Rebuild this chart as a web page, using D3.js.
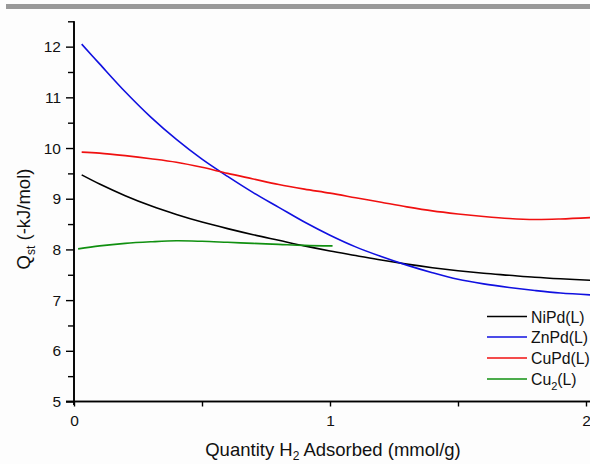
<!DOCTYPE html>
<html>
<head>
<meta charset="utf-8">
<script src="https://cdn.jsdelivr.net/npm/d3@7"></script>
<style>
  body { margin: 0; background: #fdfdfd; }
  svg { display: block; font-family: "Liberation Sans", Arial, sans-serif; }
</style>
</head>
<body>
<svg id="chart" width="590" height="464"></svg>
<script>
// values
let xGrid = [0.03, 0.1, 0.2, 0.3, 0.4, 0.5, 0.6, 0.7, 0.8, 0.9, 1.0, 1.1, 1.2, 1.3, 1.4, 1.5, 1.6, 1.7, 1.8, 1.9, 2.03]
let niPd = [9.47, 9.29, 9.06, 8.86, 8.69, 8.54, 8.41, 8.29, 8.18, 8.07, 7.97, 7.88, 7.79, 7.71, 7.64, 7.58, 7.53, 7.49, 7.45, 7.42, 7.39]
let znPd = [12.05, 11.66, 11.11, 10.61, 10.17, 9.78, 9.44, 9.12, 8.83, 8.54, 8.28, 8.05, 7.86, 7.69, 7.54, 7.41, 7.32, 7.25, 7.19, 7.14, 7.10]
let cuPd = [9.92, 9.90, 9.85, 9.79, 9.72, 9.62, 9.50, 9.39, 9.28, 9.19, 9.11, 9.02, 8.93, 8.84, 8.76, 8.70, 8.65, 8.61, 8.59, 8.60, 8.63]
let xCu2 = [0.016, 0.1, 0.2, 0.3, 0.4, 0.5, 0.6, 0.7, 0.8, 0.9, 1.01]
let cu2 = [8.01, 8.07, 8.12, 8.15, 8.17, 8.16, 8.14, 8.12, 8.10, 8.08, 8.07]

let seriesNames = ['NiPd(L)', 'ZnPd(L)', 'CuPd(L)', 'Cu2(L)']
let seriesColors = ['#000000', '#1010e0', '#f01010', '#109010']
let xTicks = [0, 1, 2]
let yTicks = [5, 6, 7, 8, 9, 10, 11, 12]

let series = [
    { x: xGrid, y: niPd },
    { x: xGrid, y: znPd },
    { x: xGrid, y: cuPd },
    { x: xCu2, y: cu2 },
]

let svg = d3.select('#chart')

// grey strip at top
svg.append('rect').attr('x', 6).attr('y', 4).attr('width', 584).attr('height', 5).attr('fill', '#999')

let x = d3.scaleLinear().domain([0, 2.03]).range([74, 74 + 2.03 * 256])
let y = d3.scaleLinear().domain([5, 12.5]).range([401.5, 21.3])

let clip = svg.append('clipPath').attr('id', 'clip')
clip.append('rect').attr('x', 74).attr('y', 21).attr('width', 520).attr('height', 381)

let line = d3.line()
    .x(d => x(d[0]))
    .y(d => y(d[1]))
    .curve(d3.curveCatmullRom)

series.forEach((s, i) => {
    svg.append('path')
        .datum(s.x.map((v, j) => [v, s.y[j]]))
        .attr('fill', 'none')
        .attr('stroke', seriesColors[i])
        .attr('stroke-width', 1.6)
        .attr('clip-path', 'url(#clip)')
        .attr('d', line)
})

// y axis
let yAxis = svg.append('g').attr('transform', 'translate(74,0)')
yAxis.call(d3.axisLeft(y).tickValues(yTicks).tickFormat(d3.format('d')).tickSize(8).tickPadding(5))
yAxis.append('g').call(d3.axisLeft(y).tickValues(d3.range(5.5, 12.6, 1)).tickSize(6).tickFormat(''))
yAxis.selectAll('.domain').attr('stroke-width', 1.6).attr('d', 'M0,' + y(12.5) + 'V405')
yAxis.selectAll('.tick line').attr('stroke-width', 1.4)
yAxis.selectAll('text').attr('font-size', 15.5).attr('fill', '#111').attr('font-family', '"Liberation Sans", Arial, sans-serif')

// x axis
let xAxis = svg.append('g').attr('transform', 'translate(0,401.5)')
xAxis.call(d3.axisBottom(x).tickValues(xTicks).tickFormat(d3.format('d')).tickSize(5).tickPadding(8))
xAxis.append('g').call(d3.axisBottom(x).tickValues([0.5, 1.5]).tickSize(5).tickFormat(''))
xAxis.selectAll('.domain').attr('stroke-width', 1.6).attr('d', 'M66,0H594')
xAxis.selectAll('.tick line').attr('stroke-width', 1.4)
xAxis.selectAll('text').attr('font-size', 15.5).attr('fill', '#111').attr('font-family', '"Liberation Sans", Arial, sans-serif')

// axis titles
let xt = svg.append('text').attr('x', 333).attr('y', 456).attr('text-anchor', 'middle')
    .attr('font-size', 18.5).attr('fill', '#111')
xt.append('tspan').text('Quantity H')
xt.append('tspan').text('2').attr('font-size', 12).attr('dy', 4)
xt.append('tspan').text(' Adsorbed (mmol/g)').attr('dy', -4)

let yt = svg.append('text').attr('transform', 'translate(30,219) rotate(-90)').attr('text-anchor', 'middle')
    .attr('font-size', 18.5).attr('fill', '#111')
yt.append('tspan').text('Q')
yt.append('tspan').text('st').attr('font-size', 12).attr('dy', 5)
yt.append('tspan').text(' (-kJ/mol)').attr('dy', -5)

// legend
let legend = svg.append('g')
let ly = [316.5, 337, 358, 379]
seriesNames.forEach((name, i) => {
    legend.append('line').attr('x1', 487).attr('x2', 527).attr('y1', ly[i]).attr('y2', ly[i])
        .attr('stroke', seriesColors[i]).attr('stroke-width', 1.6)
    let t = legend.append('text').attr('x', 531).attr('y', ly[i] + 6).attr('font-size', 15.8).attr('fill', '#111')
    if (name === 'Cu2(L)') {
        t.append('tspan').text('Cu')
        t.append('tspan').text('2').attr('font-size', 11).attr('dy', 5)
        t.append('tspan').text('(L)').attr('dy', -5)
    } else {
        t.text(name)
    }
})
</script>
</body>
</html>
